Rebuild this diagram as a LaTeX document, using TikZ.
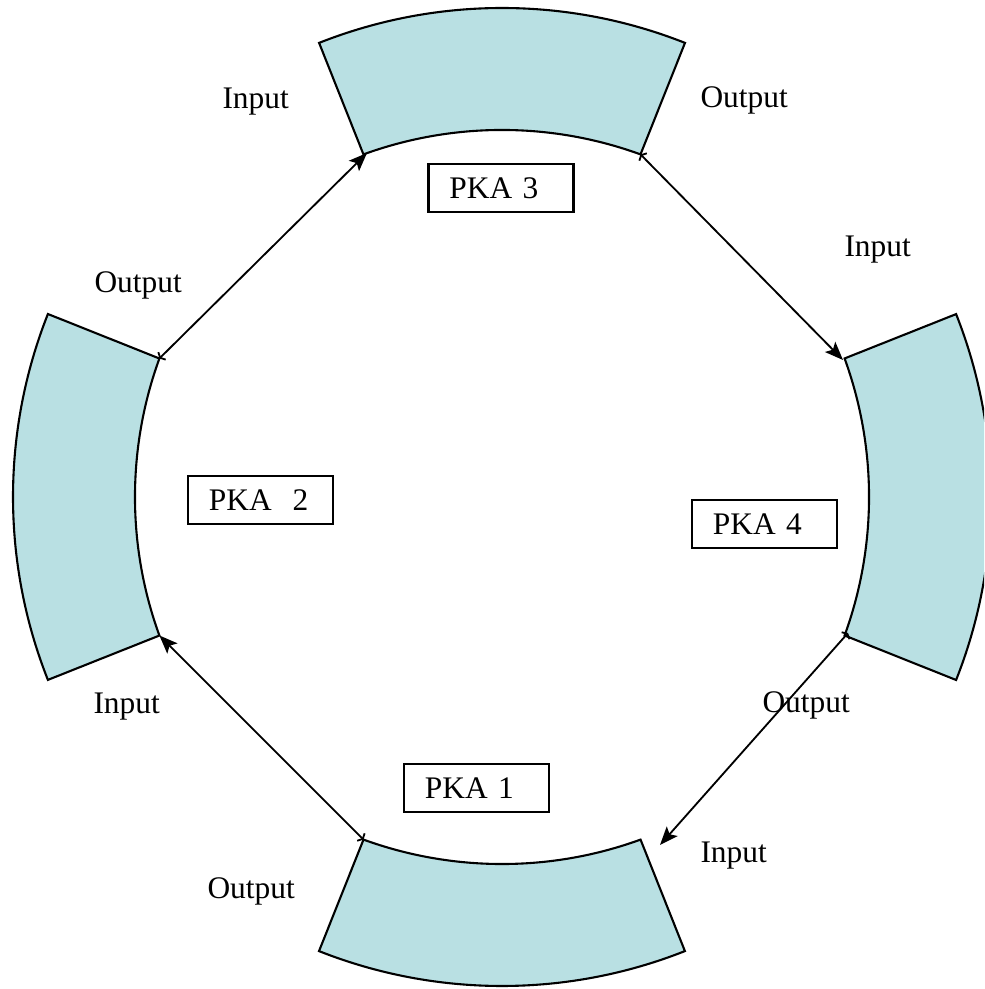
\documentclass[tikz,border=0pt]{standalone}
\usepackage{fontspec}
\setmainfont{Liberation Serif}
\usepackage{tikz}
\usetikzlibrary{arrows.meta,positioning}
\usepackage{xcolor}
\definecolor{pkacyan}{RGB}{185,224,227}
\tikzstyle{sector} = [draw=black, fill=pkacyan, line width=0.8pt]
\tikzstyle{pka} = [rectangle, draw=black, line width=0.8pt, minimum height=18.3pt, text width=39.4pt, inner xsep=8pt, align=left, font=\fontsize{12}{14}\selectfont]
\tikzstyle{port} = [anchor=base west, inner sep=0pt, font=\fontsize{12}{14}\selectfont]
\tikzstyle{arrow} = [line width=0.7pt, {Straight Barb[length=1pt,width=4pt]}-{Stealth[length=7pt,width=5.5pt,inset=1.5pt]}]

\begin{document}
\begin{tikzpicture}[x=0.382pt, y=0.382pt]
\useasboundingbox (0,0) rectangle (984,989);
\clip (0,0) rectangle (984,989);

% Ring sectors
\draw[sector] (319.1,946.1) arc[start angle=111.6, end angle=68.4, radius=497]
  -- (640.5,834.6) arc[start angle=70, end angle=110, radius=405] -- cycle;
\draw[sector] (47.9,309.1) arc[start angle=201.6, end angle=158.4, radius=497]
  -- (159.4,630.5) arc[start angle=160, end angle=200, radius=405] -- cycle;
\draw[sector] (684.9,37.9) arc[start angle=291.6, end angle=248.4, radius=497]
  -- (363.5,149.4) arc[start angle=250, end angle=290, radius=405] -- cycle;
\draw[sector] (956.1,674.9) arc[start angle=21.6, end angle=-21.6, radius=497]
  -- (844.6,353.5) arc[start angle=-20, end angle=20, radius=405] -- cycle;

% Ports on the inner edges
\coordinate (in3) at (367,836);
\coordinate (out3) at (640.5,834.6);
\coordinate (in2) at (159.4,353.5);
\coordinate (out2) at (159.4,630.5);
\coordinate (in4) at (843,629);
\coordinate (out4) at (848,356);
\coordinate (in1) at (660,144);
\coordinate (out1) at (363.5,149.4);

% Boxes
\node (pka3) [pka] at (501,801) {PKA 3};
\node (pka2) [pka] at (260.5,489) {PKA\ \ 2};
\node (pka4) [pka] at (764.5,465) {PKA 4};
\node (pka1) [pka] at (476.5,201) {PKA 1};

% Arrows
\draw[arrow] (out1) -- (in2);
\draw[arrow] (out2) -- (in3);
\draw[arrow] (out3) -- (in4);
\draw[arrow] (out4) -- (in1);

% Labels
\node (lin3) [port] at (222,880) {Input};
\node (lout3) [port] at (700,881) {Output};
\node (lin4) [port] at (844,732) {Input};
\node (lout2) [port] at (94,696) {Output};
\node (lin2) [port] at (93,275) {Input};
\node (lout4) [port] at (762,276) {Output};
\node (lin1) [port] at (700,126) {Input};
\node (lout1) [port] at (207,90) {Output};
\end{tikzpicture}
\end{document}
